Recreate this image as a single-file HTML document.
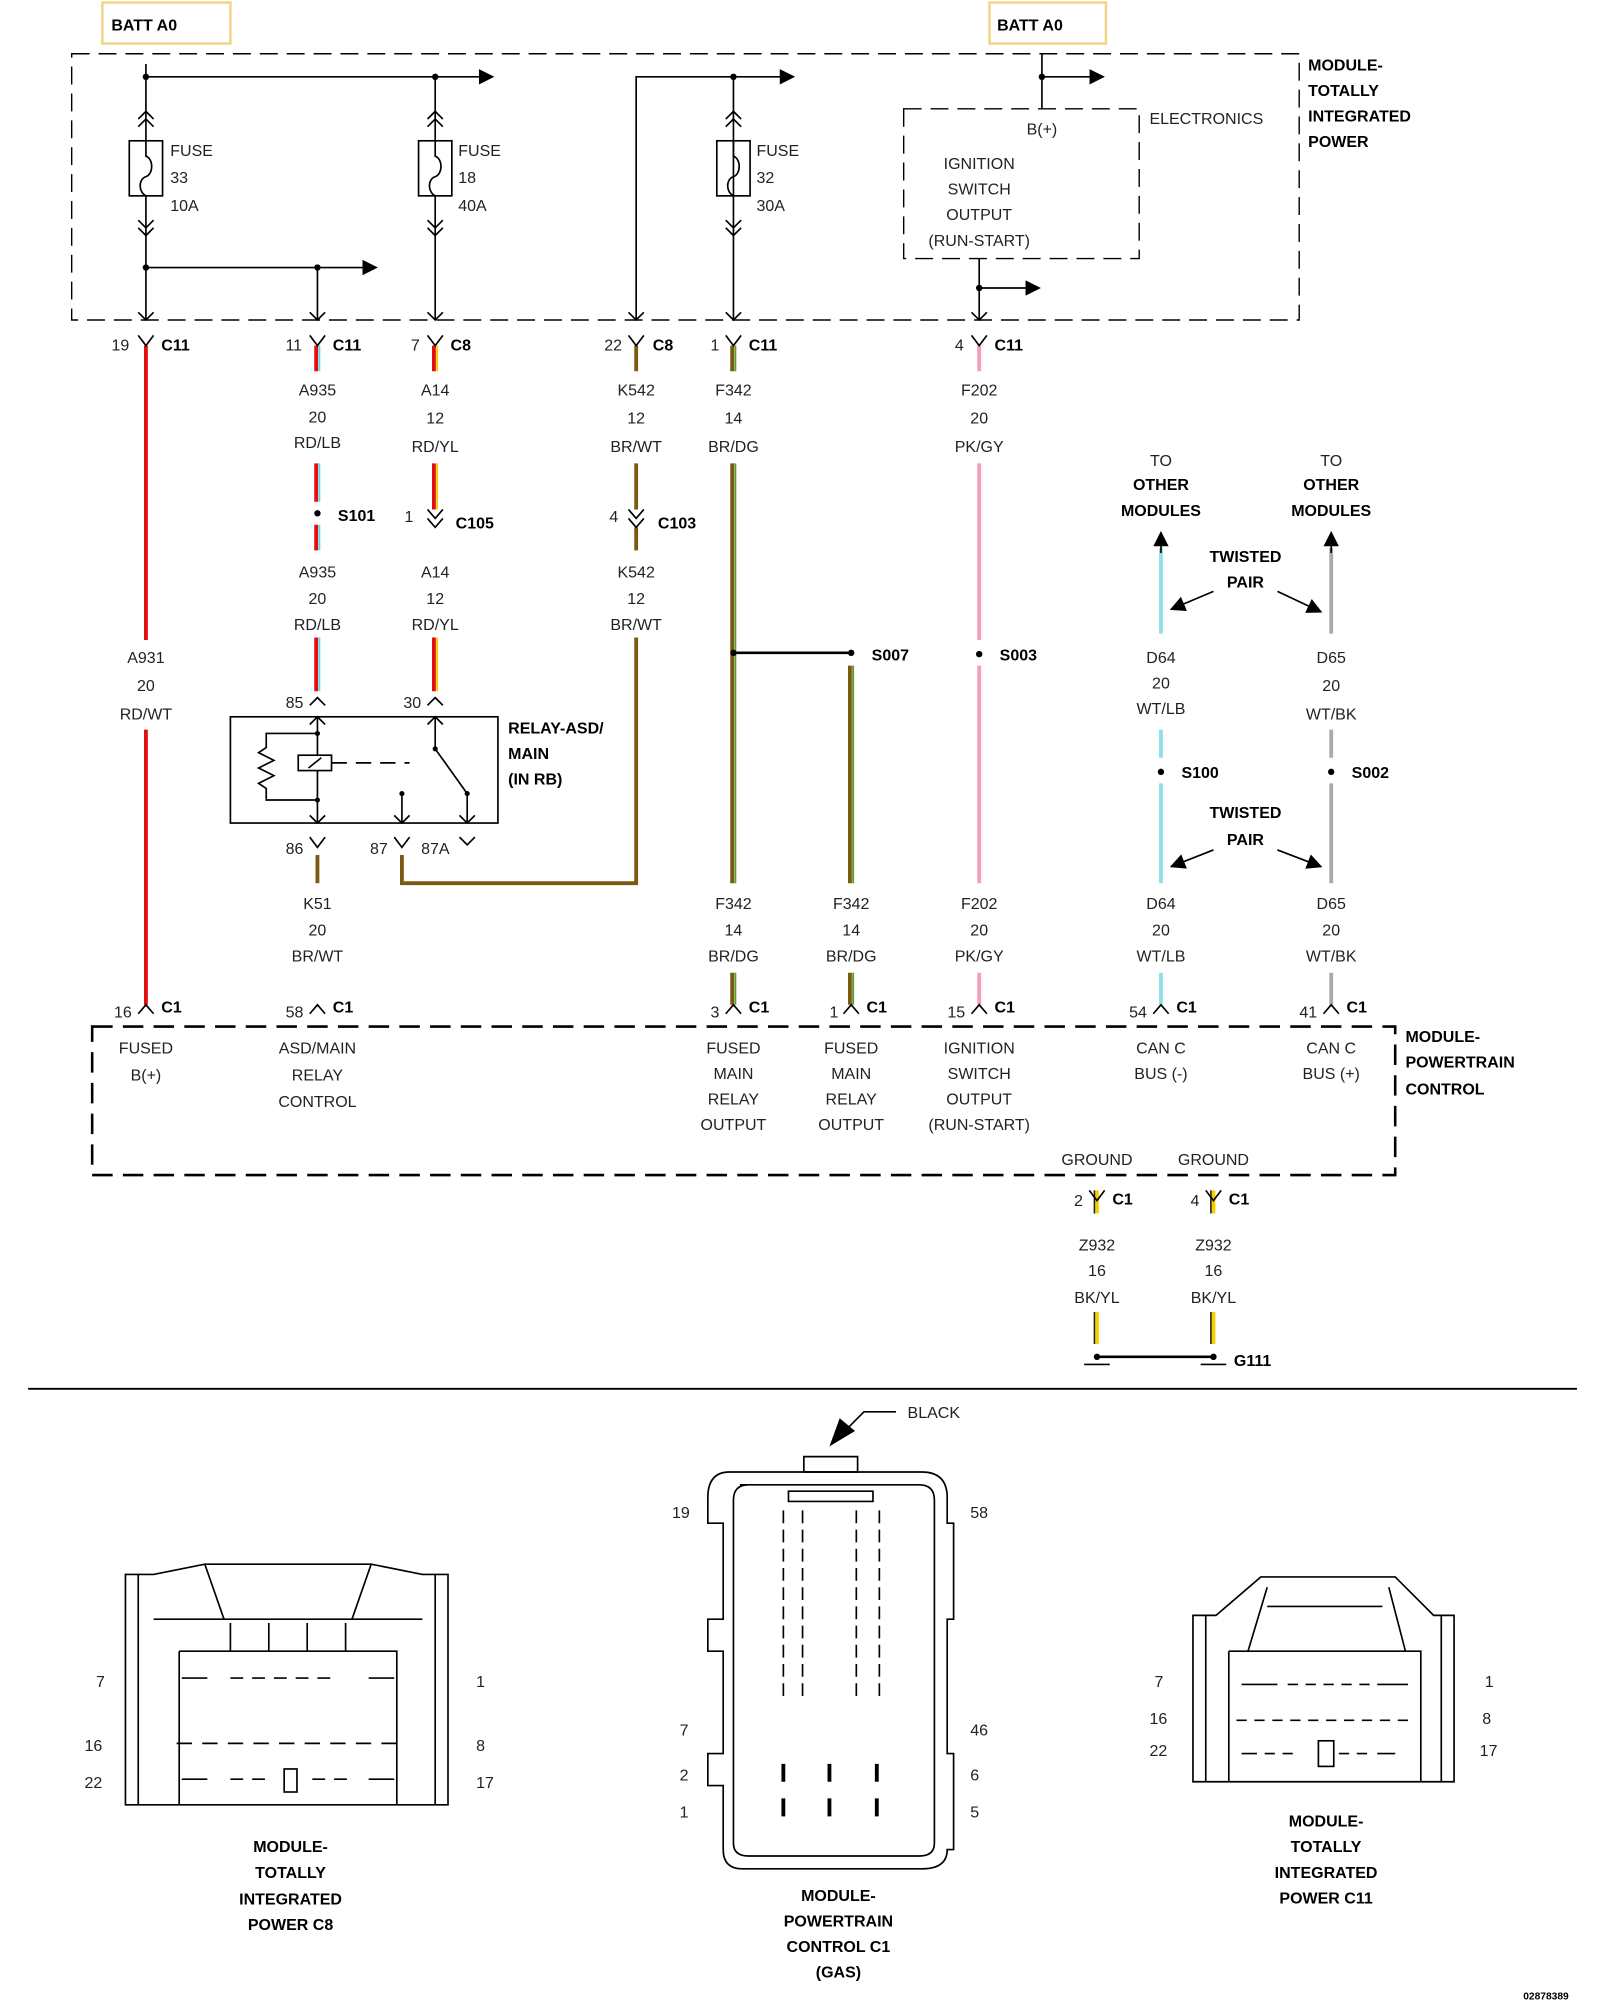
<!DOCTYPE html>
<html><head><meta charset="utf-8"><style>
html,body{margin:0;padding:0;background:#fff;width:1600px;height:2000px;overflow:hidden}
svg{display:block}
text{font-family:"Liberation Sans",sans-serif;font-size:12.5px;fill:#222}
.b{font-weight:bold;fill:#000}
.c{text-anchor:middle}
.k{stroke:#000;stroke-width:1.3;fill:none}
.d{stroke:#000;stroke-width:1.1;fill:none;stroke-dasharray:14 7}
.f{fill:#000}
</style></head><body>
<svg width="1600" height="2000" viewBox="0 0 1250 1562.5" xmlns="http://www.w3.org/2000/svg">
<defs>
<marker id="ar" viewBox="0 0 10 10" refX="9" refY="5" markerWidth="18" markerHeight="12" markerUnits="userSpaceOnUse" orient="auto"><path d="M0,0L10,5L0,10z" fill="#000"/></marker>
</defs>
<rect x="80" y="2" width="100" height="32" fill="none" stroke="#f3d58a" stroke-width="2"/>
<text x="87" y="24" class="b">BATT A0</text>
<rect x="773" y="2" width="91" height="32" fill="none" stroke="#f3d58a" stroke-width="2"/>
<text x="779" y="24" class="b">BATT A0</text>
<rect x="56" y="42" width="959" height="208" class="d"/>
<text x="1022" y="55" class="b">MODULE-</text><text x="1022" y="75" class="b">TOTALLY</text><text x="1022" y="95" class="b">INTEGRATED</text><text x="1022" y="115" class="b">POWER</text>
<path class="k" d="M114,50V250"/>
<path class="k" d="M114,60H385" marker-end="url(#ar)"/>
<path class="k" d="M114,209H294" marker-end="url(#ar)"/>
<circle cx="114" cy="60" r="2.5" class="f"/><circle cx="114" cy="209" r="2.5" class="f"/><circle cx="248" cy="209" r="2.5" class="f"/><circle cx="340" cy="60" r="2.5" class="f"/>
<path class="k" d="M248,209V250M340,60V250"/>
<g class="k">
<rect x="101" y="110" width="26" height="43" fill="#fff"/><path d="M114,110V122C120,124 120,136 114,138C108,140 108,150 114,153"/>
<rect x="327" y="110" width="26" height="43" fill="#fff"/><path d="M340,110V122C346,124 346,136 340,138C334,140 334,150 340,153"/>
<rect x="560" y="110" width="26" height="43" fill="#fff"/><path d="M573,110V122C579,124 579,136 573,138C567,140 567,150 573,153"/>
<path d="M108,93L114,87L120,93M108,99L114,93L120,99M108,172L114,178L120,172M108,178L114,184L120,178"/>
<path d="M334,93L340,87L346,93M334,99L340,93L346,99M334,172L340,178L346,172M334,178L340,184L346,178"/>
<path d="M567,93L573,87L579,93M567,99L573,93L579,99M567,172L573,178L579,172M567,178L573,184L579,178"/>
<path d="M108,244L114,250L120,244M242,244L248,250L254,244M334,244L340,250L346,244M491,244L497,250L503,244M567,244L573,250L579,244M759,244L765,250L771,244"/>
</g>
<text x="133" y="122">FUSE</text><text x="133" y="143">33</text><text x="133" y="165">10A</text>
<text x="358" y="122">FUSE</text><text x="358" y="143">18</text><text x="358" y="165">40A</text>
<text x="591" y="122">FUSE</text><text x="591" y="143">32</text><text x="591" y="165">30A</text>
<path class="k" d="M497,250V60H620" marker-end="url(#ar)"/>
<path class="k" d="M573,60V250"/><circle cx="573" cy="60" r="2.5" class="f"/>
<rect x="706" y="85" width="184" height="117" class="d"/>
<path class="k" d="M814,42V85"/><path class="k" d="M814,60H862" marker-end="url(#ar)"/><circle cx="814" cy="60" r="2.5" class="f"/>
<path class="k" d="M765,202V250"/><path class="k" d="M765,225H812" marker-end="url(#ar)"/><circle cx="765" cy="225" r="2.5" class="f"/>
<text x="814" y="105" class="c">B(+)</text>
<text x="765" y="132" class="c">IGNITION</text><text x="765" y="152" class="c">SWITCH</text><text x="765" y="172" class="c">OUTPUT</text><text x="765" y="192" class="c">(RUN-START)</text>
<text x="898" y="97">ELECTRONICS</text>
<g stroke-width="3" fill="none">
<path stroke="#e01010" d="M114,270V500M114,570V785"/>
<path stroke="#e01010" d="M247,270V290M247,362V392M247,410V430M247,498V540"/>
<path stroke="#6cd0e0" stroke-width="1.5" d="M249.5,270V290M249.5,362V392M249.5,410V430M249.5,498V540"/>
<path stroke="#e01010" d="M339,270V290M339,362V398M339,498V540"/>
<path stroke="#f5d000" stroke-width="1.5" d="M341.5,270V290M341.5,362V398M341.5,498V540"/>
<path stroke="#7a5a10" d="M497,270V290M497,362V398M497,412V430M497,498V690H314V668"/>
<path stroke="#7a5a10" d="M248,668V690"/>
<path stroke="#7a5a10" d="M572,270V290M572,362V690M572,760V785M664,520V690M664,760V785"/>
<path stroke="#5a9a30" stroke-width="1.5" d="M574.5,270V290M574.5,362V690M574.5,760V785M666.5,520V690M666.5,760V785"/>
<path stroke="#f0a0b8" d="M765,270V290M765,362V500M765,520V690M765,760V785"/>
<path stroke="#8ee0ea" d="M907,428V495M907,570V592M907,612V690M907,760V785"/>
<path stroke="#aaa" d="M1040,428V495M1040,570V592M1040,612V690M1040,760V785"/>
<path stroke="#f5d000" d="M857,930V948M948,930V948M857,1025V1050M948,1025V1050"/>
<path stroke="#222" stroke-width="1.2" d="M855,930V948M946,930V948M855,1025V1050M946,1025V1050"/>
</g>
<path stroke="#000" stroke-width="2" d="M573,510H665M857,1060H948"/>
<g class="k">
<path d="M108,262L114,270L120,262M242,262L248,270L254,262M334,262L340,270L346,262M491,262L497,270L503,262M567,262L573,270L579,262M759,262L765,270L771,262"/>
<path d="M334,398L340,405L346,398M334,405L340,412L346,405M491,398L497,405L503,398M491,405L497,412L503,405"/>
<path d="M242,551L248,545L254,551M334,551L340,545L346,551"/>
<path d="M242,654L248,662L254,654M308,654L314,662L320,654M359,654L365,660L371,654"/>
<path d="M108,792L114,785L120,792M242,792L248,785L254,792M567,792L573,785L579,792M659,792L665,785L671,792M759,792L765,785L771,792M901,792L907,785L913,792M1034,792L1040,785L1046,792"/>
<path d="M851,930L857,938L863,930M942,930L948,938L954,930"/>
<path d="M847,1066H867M938,1066H958"/>
</g>
<g class="f"><circle cx="248" cy="401" r="2.5"/><circle cx="573" cy="510" r="2.5"/><circle cx="665" cy="510" r="2.5"/><circle cx="765" cy="511" r="2.5"/><circle cx="907" cy="603" r="2.5"/><circle cx="1040" cy="603" r="2.5"/><circle cx="857" cy="1060" r="2.5"/><circle cx="948" cy="1060" r="2.5"/></g>
<text x="101" y="274" text-anchor="end">19</text><text x="126" y="274" class="b">C11</text>
<text x="236" y="274" text-anchor="end">11</text><text x="260" y="274" class="b">C11</text>
<text x="328" y="274" text-anchor="end">7</text><text x="352" y="274" class="b">C8</text>
<text x="486" y="274" text-anchor="end">22</text><text x="510" y="274" class="b">C8</text>
<text x="562" y="274" text-anchor="end">1</text><text x="585" y="274" class="b">C11</text>
<text x="753" y="274" text-anchor="end">4</text><text x="777" y="274" class="b">C11</text>
<g class="c">
<text x="248" y="309">A935</text><text x="248" y="330">20</text><text x="248" y="350">RD/LB</text>
<text x="248" y="451">A935</text><text x="248" y="472">20</text><text x="248" y="492">RD/LB</text>
<text x="340" y="309">A14</text><text x="340" y="331">12</text><text x="340" y="353">RD/YL</text>
<text x="340" y="451">A14</text><text x="340" y="472">12</text><text x="340" y="492">RD/YL</text>
<text x="497" y="309">K542</text><text x="497" y="331">12</text><text x="497" y="353">BR/WT</text>
<text x="497" y="451">K542</text><text x="497" y="472">12</text><text x="497" y="492">BR/WT</text>
<text x="573" y="309">F342</text><text x="573" y="331">14</text><text x="573" y="353">BR/DG</text>
<text x="765" y="309">F202</text><text x="765" y="331">20</text><text x="765" y="353">PK/GY</text>
<text x="114" y="518">A931</text><text x="114" y="540">20</text><text x="114" y="562">RD/WT</text>
<text x="248" y="710">K51</text><text x="248" y="731">20</text><text x="248" y="751">BR/WT</text>
<text x="573" y="710">F342</text><text x="573" y="731">14</text><text x="573" y="751">BR/DG</text>
<text x="665" y="710">F342</text><text x="665" y="731">14</text><text x="665" y="751">BR/DG</text>
<text x="765" y="710">F202</text><text x="765" y="731">20</text><text x="765" y="751">PK/GY</text>
<text x="907" y="518">D64</text><text x="907" y="538">20</text><text x="907" y="558">WT/LB</text>
<text x="1040" y="518">D65</text><text x="1040" y="540">20</text><text x="1040" y="562">WT/BK</text>
<text x="907" y="710">D64</text><text x="907" y="731">20</text><text x="907" y="751">WT/LB</text>
<text x="1040" y="710">D65</text><text x="1040" y="731">20</text><text x="1040" y="751">WT/BK</text>
<text x="907" y="364">TO</text><text x="907" y="383" class="b">OTHER</text><text x="907" y="403" class="b">MODULES</text>
<text x="1040" y="364">TO</text><text x="1040" y="383" class="b">OTHER</text><text x="1040" y="403" class="b">MODULES</text>
<text x="973" y="439" class="b">TWISTED</text><text x="973" y="459" class="b">PAIR</text>
<text x="973" y="639" class="b">TWISTED</text><text x="973" y="660" class="b">PAIR</text>
<text x="857" y="977">Z932</text><text x="857" y="997">16</text><text x="857" y="1018">BK/YL</text>
<text x="948" y="977">Z932</text><text x="948" y="997">16</text><text x="948" y="1018">BK/YL</text>
<text x="857" y="910">GROUND</text><text x="948" y="910">GROUND</text>
</g>
<path class="k" d="M907,432V416" marker-end="url(#ar)"/><path class="k" d="M1040,432V416" marker-end="url(#ar)"/>
<path class="k" d="M948,462L915,476" marker-end="url(#ar)"/>
<path class="k" d="M998,462L1032,478" marker-end="url(#ar)"/>
<path class="k" d="M948,664L915,677" marker-end="url(#ar)"/>
<path class="k" d="M998,664L1032,677" marker-end="url(#ar)"/>
<text x="264" y="407" class="b">S101</text>
<text x="323" y="408" text-anchor="end">1</text><text x="356" y="413" class="b">C105</text>
<text x="483" y="408" text-anchor="end">4</text><text x="514" y="413" class="b">C103</text>
<text x="681" y="516" class="b">S007</text><text x="781" y="516" class="b">S003</text>
<text x="923" y="608" class="b">S100</text><text x="1056" y="608" class="b">S002</text>
<text x="964" y="1067" class="b">G111</text>
<rect x="180" y="560" width="209" height="83" class="k"/>
<text x="397" y="573" class="b">RELAY-ASD/</text><text x="397" y="593" class="b">MAIN</text><text x="397" y="613" class="b">(IN RB)</text>
<text x="237" y="553" text-anchor="end">85</text><text x="329" y="553" text-anchor="end">30</text>
<text x="237" y="667" text-anchor="end">86</text><text x="303" y="667" text-anchor="end">87</text><text x="329" y="667">87A</text>
<g class="k">
<path d="M248,560V643M242,566L248,560L254,566M242,637L248,643L254,637"/>
<path d="M248,573H208V584L202,588L214,594L202,600L214,606L202,612L208,616V625H248"/>
<rect x="233" y="590" width="26" height="12" fill="#fff"/><path d="M241,600L251,592"/>
<path d="M259,596H320" stroke-dasharray="12 7"/>
<path d="M340,560V585L365,620M334,566L340,560L346,566"/>
<path d="M365,620V643M359,637L365,643L371,637M314,620V643M308,637L314,643L320,637"/>
</g>
<circle cx="248" cy="573" r="2" class="f"/><circle cx="248" cy="625" r="2" class="f"/><circle cx="340" cy="585" r="2" class="f"/><circle cx="365" cy="620" r="2" class="f"/><circle cx="314" cy="620" r="2" class="f"/>
<rect x="72" y="802" width="1018" height="116" fill="none" stroke="#000" stroke-width="2" stroke-dasharray="16 8"/>
<text x="1098" y="814" class="b">MODULE-</text><text x="1098" y="834" class="b">POWERTRAIN</text><text x="1098" y="855" class="b">CONTROL</text>
<text x="103" y="795" text-anchor="end">16</text><text x="126" y="791" class="b">C1</text>
<text x="237" y="795" text-anchor="end">58</text><text x="260" y="791" class="b">C1</text>
<text x="562" y="795" text-anchor="end">3</text><text x="585" y="791" class="b">C1</text>
<text x="655" y="795" text-anchor="end">1</text><text x="677" y="791" class="b">C1</text>
<text x="754" y="795" text-anchor="end">15</text><text x="777" y="791" class="b">C1</text>
<text x="896" y="795" text-anchor="end">54</text><text x="919" y="791" class="b">C1</text>
<text x="1029" y="795" text-anchor="end">41</text><text x="1052" y="791" class="b">C1</text>
<text x="846" y="942" text-anchor="end">2</text><text x="869" y="941" class="b">C1</text>
<text x="937" y="942" text-anchor="end">4</text><text x="960" y="941" class="b">C1</text>
<g class="c">
<text x="114" y="823">FUSED</text><text x="114" y="844">B(+)</text>
<text x="248" y="823">ASD/MAIN</text><text x="248" y="844">RELAY</text><text x="248" y="865">CONTROL</text>
<text x="573" y="823">FUSED</text><text x="573" y="843">MAIN</text><text x="573" y="863">RELAY</text><text x="573" y="883">OUTPUT</text>
<text x="665" y="823">FUSED</text><text x="665" y="843">MAIN</text><text x="665" y="863">RELAY</text><text x="665" y="883">OUTPUT</text>
<text x="765" y="823">IGNITION</text><text x="765" y="843">SWITCH</text><text x="765" y="863">OUTPUT</text><text x="765" y="883">(RUN-START)</text>
<text x="907" y="823">CAN C</text><text x="907" y="843">BUS (-)</text>
<text x="1040" y="823">CAN C</text><text x="1040" y="843">BUS (+)</text>
</g>
<path d="M22,1085H1232" stroke="#000" stroke-width="1.5"/>
<g class="k" stroke-width="1.1">
<path d="M98,1410V1230H120L160,1222H290L330,1230H350V1410Z"/>
<path d="M108,1230V1410M340,1230V1410M120,1265H330M160,1222L175,1265M290,1222L275,1265M140,1290H310V1410M140,1290V1410"/>
<path d="M180,1268V1290M210,1268V1290M240,1268V1290M270,1268V1290"/>
<path d="M142,1311h20M180,1311h10M197,1311h10M214,1311h10M231,1311h10M248,1311h10M288,1311h20"/>
<path d="M138,1362h12M158,1362h12M178,1362h12M198,1362h12M218,1362h12M238,1362h12M258,1362h12M278,1362h12M298,1362h12"/>
<path d="M142,1390h20M180,1390h10M197,1390h10M244,1390h10M261,1390h10M288,1390h20"/>
<rect x="222" y="1382" width="10" height="18"/>
<path d="M628,1138h42v12h-42z"/>
<path d="M570,1150H720Q740,1150 740,1170V1190H745V1265H740V1370H745V1445H740Q740,1460 720,1460H580Q565,1460 565,1445V1395H553V1370H565V1290H553V1265H565V1190H553V1170Q553,1150 570,1150Z"/>
<path d="M578,1160H718Q730,1160 730,1172V1440Q730,1450 718,1450H585Q573,1450 573,1440V1172Q573,1160 585,1160Z"/>
<path d="M616,1165h66v8h-66z"/>
<path d="M612,1180V1330M627,1180V1330M669,1180V1330M687,1180V1330" stroke-dasharray="10 5"/>
<path d="M612,1378v14M648,1378v14M685,1378v14M612,1405v14M648,1405v14M685,1405v14" stroke-width="3"/>
<path d="M932,1392V1262H950L985,1232H1090L1120,1262H1136V1392Z"/>
<path d="M942,1262V1392M1126,1262V1392M960,1290H1110V1392M960,1290V1392M990,1240L975,1290M1085,1240L1098,1290M990,1255h90"/>
<path d="M970,1316h28M1006,1316h8M1020,1316h8M1034,1316h8M1048,1316h8M1062,1316h8M1076,1316h24"/>
<path d="M966,1344h8M980,1344h8M994,1344h8M1008,1344h8M1022,1344h8M1036,1344h8M1050,1344h8M1064,1344h8M1078,1344h8M1092,1344h8"/>
<path d="M970,1370h12M988,1370h8M1002,1370h8M1046,1370h8M1060,1370h8M1076,1370h14"/>
<rect x="1030" y="1360" width="12" height="20"/>
</g>
<path class="k" d="M700,1103H675L660,1118"/><path d="M648,1130L656,1108L668,1118Z" class="f"/>
<text x="709" y="1108">BLACK</text>
<g style="font-size:11px">
<text x="525" y="1186">19</text><text x="758" y="1186">58</text><text x="531" y="1356">7</text><text x="758" y="1356">46</text>
<text x="531" y="1391">2</text><text x="758" y="1391">6</text><text x="531" y="1420">1</text><text x="758" y="1420">5</text>
</g>
<text x="75" y="1318">7</text><text x="372" y="1318">1</text><text x="66" y="1368">16</text><text x="372" y="1368">8</text><text x="66" y="1397">22</text><text x="372" y="1397">17</text>
<text x="902" y="1318">7</text><text x="1160" y="1318">1</text><text x="898" y="1347">16</text><text x="1158" y="1347">8</text><text x="898" y="1372">22</text><text x="1156" y="1372">17</text>
<g class="c">
<text x="227" y="1447" class="b">MODULE-</text><text x="227" y="1467" class="b">TOTALLY</text><text x="227" y="1488" class="b">INTEGRATED</text><text x="227" y="1508" class="b">POWER C8</text>
<text x="655" y="1485" class="b">MODULE-</text><text x="655" y="1505" class="b">POWERTRAIN</text><text x="655" y="1525" class="b">CONTROL C1</text><text x="655" y="1545" class="b">(GAS)</text>
<text x="1036" y="1427" class="b">MODULE-</text><text x="1036" y="1447" class="b">TOTALLY</text><text x="1036" y="1467" class="b">INTEGRATED</text><text x="1036" y="1487" class="b">POWER C11</text>
</g>
<text x="1190" y="1562" class="b" style="font-size:8px">02878389</text>
</svg>
</body></html>
